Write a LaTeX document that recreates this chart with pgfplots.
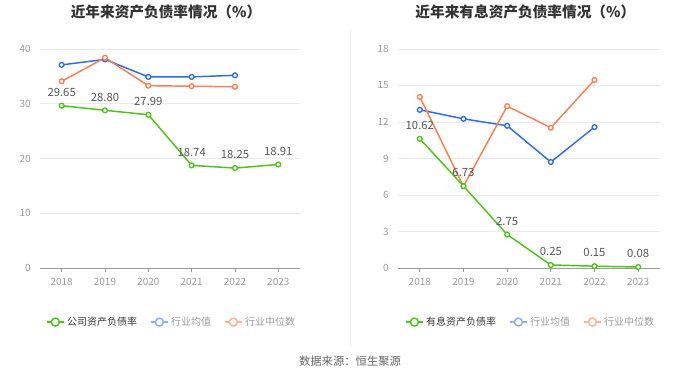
\documentclass[border=0pt]{standalone}
\usepackage{fontspec}
\setmainfont{Noto Sans CJK SC}
\usepackage{pgfplots}
\pgfplotsset{compat=1.18}
\definecolor{cgreen}{HTML}{4EC21B}
\definecolor{cblue}{HTML}{2F6BE8}
\definecolor{corange}{HTML}{FA7F50}
\definecolor{cgrid}{HTML}{E6EAF3}
\definecolor{ctick}{HTML}{9A9A9A}
\definecolor{clabel}{HTML}{555555}
\definecolor{ctitle}{HTML}{333333}
\pgfplotsset{
  panel/.style={
    scale only axis, height=164.25pt, ymin=0,
    xmin=2017.5, xmax=2023.5,
    xtick={2018,2019,2020,2021,2022,2023},
    xticklabels={2018,2019,2020,2021,2022,2023},
    axis x line=bottom, axis y line=left,
    x axis line style={-, draw=ctick, line width=0.6pt},
    y axis line style={draw=none},
    ytick style={draw=none},
    xtick style={draw=ctick, line width=0.6pt},
    xtick align=outside, major tick length=3pt,
    ymajorgrids, grid style={cgrid, line width=0.6pt},
    tick label style={font=\fontsize{7.5}{9}\selectfont, text=ctick},
    /pgf/number format/assume math mode=true,
    yticklabel style={xshift=-2pt},
    xticklabel style={yshift=-1pt},
    legend columns=3,
    legend style={draw=none, fill=none, font=\fontsize{7.5}{9}\selectfont, anchor=center,
      /tikz/every even column/.append style={column sep=8pt}},
    legend image code/.code={\draw[mark repeat=2,mark phase=2,#1] plot coordinates {(0cm,0cm)(0.22cm,0cm)(0.44cm,0cm)};},
  },
  ser/.style={color=#1, line width=1.1pt, mark=*, mark size=1.8pt,
    mark options={fill=white, draw=#1, line width=1pt}},
  leg/.style={color=#1, line width=1pt, mark=*, mark size=3pt,
    mark options={fill=white, draw=#1, line width=1.1pt}},
  lab/.style={nodes near coords={\pgfmathprintnumber[fixed,fixed zerofill,precision=2]{\pgfplotspointmeta}},
    every node near coord/.append style={font=\fontsize{8.5}{10}\selectfont, text=clabel, anchor=south, yshift=3pt}},
}
\begin{document}
\begin{tikzpicture}
\useasboundingbox (0,0) rectangle (525pt,283.5pt);
% titles
\node[font=\fontsize{11}{13}\selectfont\bfseries, text=ctitle] at (124.5pt,274.5pt) {近年来资产负债率情况（\%）};
\node[font=\fontsize{11}{13}\selectfont\bfseries, text=ctitle] at (394pt,274.5pt) {近年来有息资产负债率情况（\%）};
% separator
\draw[draw=black!6, line width=0.6pt] (262.5pt,261pt) -- (262.5pt,24pt);
% source
\node[font=\fontsize{8.5}{10}\selectfont, text=black!60] at (262.5pt,12.75pt) {数据来源：恒生聚源};

\begin{axis}[panel, at={(30pt,82.5pt)}, anchor=south west, width=195pt,
  ymax=40, ytick={0,10,20,30,40},
  legend style={at={(0.508,-0.247)}}]
\addlegendimage{leg=cgreen}
\addlegendentry[text=ctitle]{公司资产负债率}
\addlegendimage{leg=cblue!55}
\addlegendentry[text=ctick]{行业均值}
\addlegendimage{leg=corange!60}
\addlegendentry[text=ctick]{行业中位数}
\addplot[ser=cblue, forget plot] coordinates {(2018,37.1) (2019,38.1) (2020,34.9) (2021,34.9) (2022,35.2)};
\addplot[ser=corange, forget plot] coordinates {(2018,34.1) (2019,38.4) (2020,33.3) (2021,33.2) (2022,33.1)};
\addplot[ser=cgreen, lab, forget plot] coordinates {(2018,29.65) (2019,28.80) (2020,27.99) (2021,18.74) (2022,18.25) (2023,18.91)};
\end{axis}

\begin{axis}[panel, at={(298.5pt,82.5pt)}, anchor=south west, width=196.5pt,
  ymax=18, ytick={0,3,6,9,12,15,18},
  legend style={at={(0.508,-0.247)}}]
\addlegendimage{leg=cgreen}
\addlegendentry[text=ctitle]{有息资产负债率}
\addlegendimage{leg=cblue!55}
\addlegendentry[text=ctick]{行业均值}
\addlegendimage{leg=corange!60}
\addlegendentry[text=ctick]{行业中位数}
\addplot[ser=cblue, forget plot] coordinates {(2018,13.0) (2019,12.26) (2020,11.69) (2021,8.71) (2022,11.58)};
\addplot[ser=corange, forget plot] coordinates {(2018,14.05) (2019,6.71) (2020,13.3) (2021,11.53) (2022,15.45)};
\addplot[ser=cgreen, lab, forget plot] coordinates {(2018,10.62) (2019,6.73) (2020,2.75) (2021,0.25) (2022,0.15) (2023,0.08)};
\end{axis}
\end{tikzpicture}
\end{document}
